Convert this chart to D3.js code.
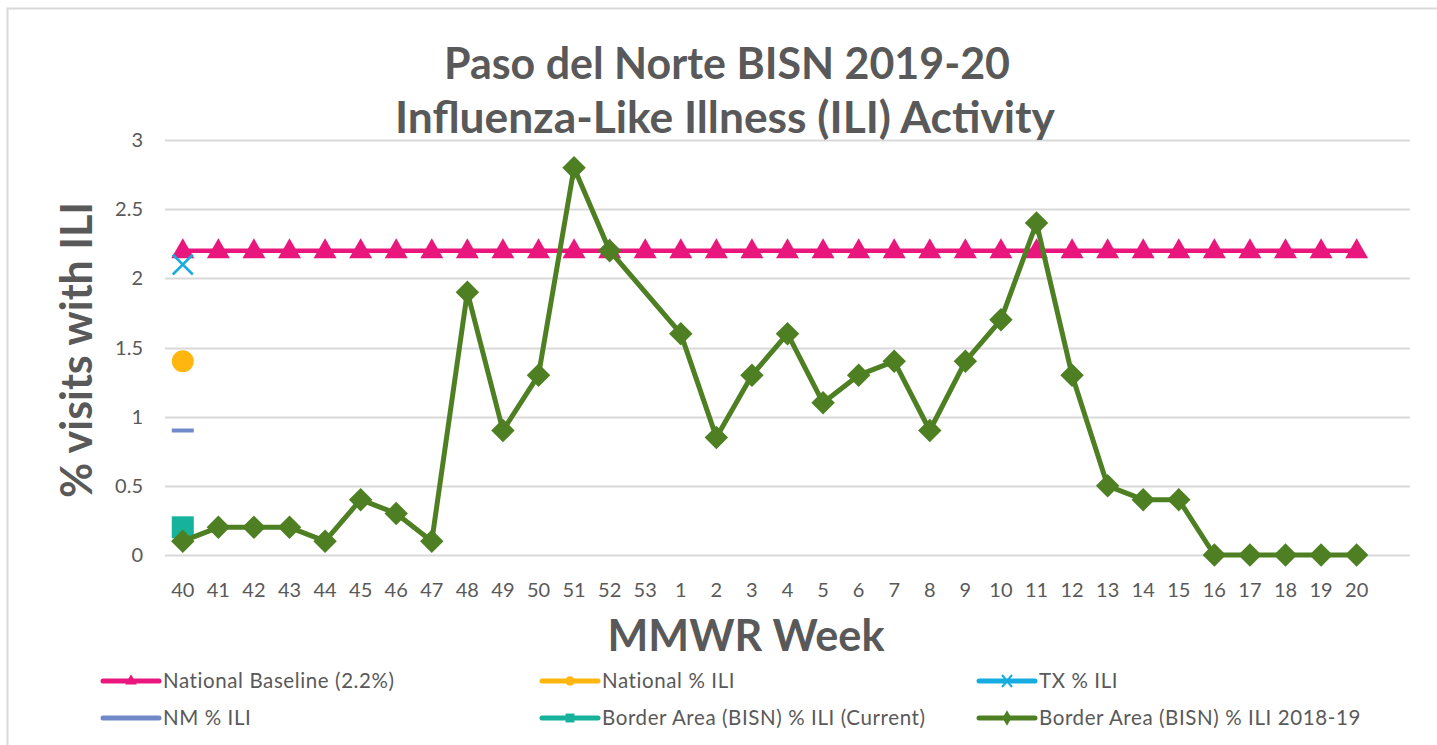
<!DOCTYPE html>
<html>
<head>
<meta charset="utf-8">
<script src="https://cdn.jsdelivr.net/npm/d3@7"></script>
<style>
  body { margin: 0; background: #fff; }
  text { font-family: Lato, "Open Sans", sans-serif; fill: #595959; }
</style>
</head>
<body>
<div id="chart"></div>
<script>
// MMWR weeks, season 2019-20
var weeks = ["40","41","42","43","44","45","46","47","48","49","50","51","52","53",
             "1","2","3","4","5","6","7","8","9","10","11","12","13","14","15","16","17","18","19","20"]

var baseline = weeks.map(function () { return 2.2 })
// 2018-19 season, week 53 has no value
var bisnPrev = [0.1,0.2,0.2,0.2,0.1,0.4,0.3,0.1,1.9,0.9,1.3,2.8,2.2,null,
                1.6,0.85,1.3,1.6,1.1,1.3,1.4,0.9,1.4,1.7,2.4,1.3,0.5,0.4,0.4,0,0,0,0,0]
var nationalIli = [1.4]
var txIli = [2.1]
var nmIli = [0.9]
var bisnCurrent = [0.2]

var yTicks = [0, 0.5, 1, 1.5, 2, 2.5, 3]

var legendItems = [
    {name: "National Baseline (2.2%)", color: "#E9177D", marker: "triangle"},
    {name: "National % ILI", color: "#FFB60F", marker: "circle"},
    {name: "TX % ILI", color: "#16ACDF", marker: "x"},
    {name: "NM % ILI", color: "#7189C8", marker: "none"},
    {name: "Border Area (BISN) % ILI (Current)", color: "#17B29C", marker: "square"},
    {name: "Border Area (BISN) % ILI 2018-19", color: "#4E8023", marker: "diamond"}
]

var width = 1437
var height = 745
var margin = {top: 140, right: 27, bottom: 190, left: 165}

var svg = d3.select("#chart").append("svg")
    .attr("width", width)
    .attr("height", height)

svg.append("rect")
    .attr("x", 7.5).attr("y", 8.5)
    .attr("width", width).attr("height", height)
    .attr("fill", "none")
    .attr("stroke", "#D9D9D9")
    .attr("stroke-width", 2)

// one empty slot after week 20, as in the original chart
var x = d3.scaleBand()
    .domain(weeks.concat([""]))
    .range([margin.left, width - margin.right])

var y = d3.scaleLinear()
    .domain([0, 3])
    .range([height - margin.bottom, margin.top])

function cx(i) { return x(weeks[i]) + x.bandwidth() / 2 }

// gridlines
svg.append("g")
    .selectAll("line")
    .data(yTicks)
    .enter().append("line")
    .attr("x1", margin.left)
    .attr("x2", width - margin.right)
    .attr("y1", function (d) { return Math.round(y(d)) + 0.5 })
    .attr("y2", function (d) { return Math.round(y(d)) + 0.5 })
    .attr("stroke", "#D9D9D9")
    .attr("stroke-width", 2)

// y tick labels
svg.append("g")
    .selectAll("text")
    .data(yTicks)
    .enter().append("text")
    .attr("x", 143)
    .attr("y", function (d) { return y(d) + 7 })
    .attr("text-anchor", "end")
    .style("font-size", "20px")
    .text(function (d) { return d })

// x tick labels
svg.append("g")
    .selectAll("text")
    .data(weeks)
    .enter().append("text")
    .attr("x", function (d, i) { return cx(i) })
    .attr("y", 597)
    .attr("text-anchor", "middle")
    .style("font-size", "20px")
    .text(function (d) { return d })

// titles
svg.append("text")
    .attr("x", 727).attr("y", 79)
    .attr("text-anchor", "middle")
    .attr("textLength", 566).attr("lengthAdjust", "spacingAndGlyphs")
    .style("font-size", "43px").style("font-weight", "bold")
    .text("Paso del Norte BISN 2019-20")
svg.append("text")
    .attr("x", 725).attr("y", 133)
    .attr("text-anchor", "middle")
    .attr("textLength", 660).attr("lengthAdjust", "spacingAndGlyphs")
    .style("font-size", "43px").style("font-weight", "bold")
    .text("Influenza-Like Illness (ILI) Activity")
svg.append("text")
    .attr("transform", "translate(92,350) rotate(-90)")
    .attr("text-anchor", "middle")
    .attr("textLength", 296).attr("lengthAdjust", "spacingAndGlyphs")
    .style("font-size", "44px").style("font-weight", "bold")
    .text("% visits with ILI")
svg.append("text")
    .attr("x", 746).attr("y", 651)
    .attr("text-anchor", "middle")
    .attr("textLength", 277).attr("lengthAdjust", "spacingAndGlyphs")
    .style("font-size", "43px").style("font-weight", "bold")
    .text("MMWR Week")

var triangle = d3.symbol().type(d3.symbolTriangle).size(230)
var diamond = d3.symbol().type(d3.symbolSquare).size(275)

var line = d3.line()
    .x(function (d) { return cx(d.i) })
    .y(function (d) { return y(d.v) })

// national baseline
var baseData = baseline.map(function (v, i) { return {i: i, v: v} })
svg.append("path")
    .attr("d", line(baseData))
    .attr("fill", "none")
    .attr("stroke", legendItems[0].color)
    .attr("stroke-width", 4.5)
svg.append("g")
    .selectAll("path")
    .data(baseData)
    .enter().append("path")
    .attr("d", triangle)
    .attr("transform", function (d) { return "translate(" + cx(d.i) + "," + (y(d.v) + 1) + ")" })
    .attr("fill", legendItems[0].color)

// single-week series
nationalIli.forEach(function (v, i) {
    svg.append("circle")
        .attr("cx", cx(i)).attr("cy", y(v)).attr("r", 11)
        .attr("fill", legendItems[1].color)
})
txIli.forEach(function (v, i) {
    svg.append("path")
        .attr("d", "M-10,-10L10,10M-10,10L10,-10")
        .attr("transform", "translate(" + cx(i) + "," + y(v) + ")")
        .attr("stroke", legendItems[2].color)
        .attr("stroke-width", 2.5)
})
nmIli.forEach(function (v, i) {
    svg.append("line")
        .attr("x1", cx(i) - 11).attr("x2", cx(i) + 11)
        .attr("y1", y(v)).attr("y2", y(v))
        .attr("stroke", legendItems[3].color)
        .attr("stroke-width", 4)
})
bisnCurrent.forEach(function (v, i) {
    svg.append("rect")
        .attr("x", cx(i) - 11).attr("y", y(v) - 11)
        .attr("width", 22).attr("height", 22)
        .attr("fill", legendItems[4].color)
})

// 2018-19 series, the gap at week 53 is spanned
var prevData = bisnPrev.map(function (v, i) { return {i: i, v: v} })
    .filter(function (d) { return d.v !== null })
svg.append("path")
    .attr("d", line(prevData))
    .attr("fill", "none")
    .attr("stroke", legendItems[5].color)
    .attr("stroke-width", 5)
    .attr("stroke-linejoin", "round")
svg.append("g")
    .selectAll("path")
    .data(prevData)
    .enter().append("path")
    .attr("d", diamond)
    .attr("transform", function (d) { return "translate(" + cx(d.i) + "," + y(d.v) + ") rotate(45)" })
    .attr("fill", legendItems[5].color)

// legend
var legendCols = [103, 542, 979]
var legendRows = [681, 718]
var legend = svg.append("g")
    .selectAll("g")
    .data(legendItems)
    .enter().append("g")
    .attr("transform", function (d, i) {
        return "translate(" + legendCols[i % 3] + "," + legendRows[Math.floor(i / 3)] + ")"
    })

legend.append("line")
    .attr("x1", 0).attr("x2", 56)
    .attr("stroke", function (d) { return d.color })
    .attr("stroke-width", 5)
    .attr("stroke-linecap", "round")
legend.append("path")
    .attr("d", function (d) {
        if (d.marker == "triangle") return d3.symbol().type(d3.symbolTriangle).size(60)()
        if (d.marker == "circle") return d3.symbol().type(d3.symbolCircle).size(70)()
        if (d.marker == "square") return d3.symbol().type(d3.symbolSquare).size(80)()
        if (d.marker == "diamond") return d3.symbol().type(d3.symbolDiamond).size(70)()
        if (d.marker == "x") return "M-5,-6L5,6M-5,6L5,-6"
        return ""
    })
    .attr("transform", "translate(28,0)")
    .attr("fill", function (d) { return d.marker == "x" ? "none" : d.color })
    .attr("stroke", function (d) { return d.marker == "x" ? d.color : "none" })
    .attr("stroke-width", 2)
legend.append("text")
    .attr("x", 60)
    .attr("y", 7)
    .style("font-size", "20.5px")
    .style("letter-spacing", "0.6px")
    .text(function (d) { return d.name })
</script>
</body>
</html>
